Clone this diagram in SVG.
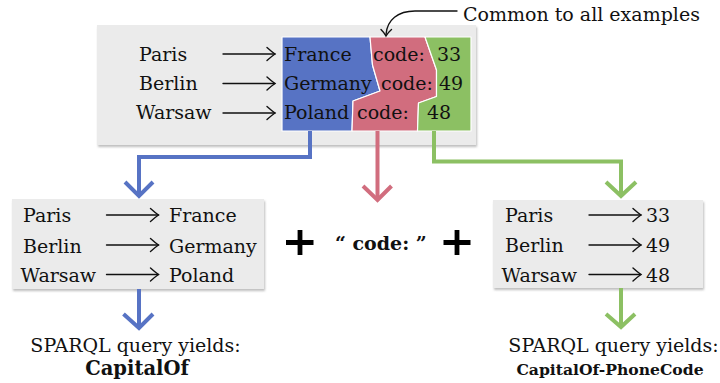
<svg xmlns="http://www.w3.org/2000/svg" width="720" height="383" viewBox="0 0 720 383">
<defs>
<style>
.t{font-family:"DejaVu Serif","Liberation Serif",serif;font-size:19px;fill:#111}
.b{font-family:"DejaVu Serif","Liberation Serif",serif;font-weight:bold;fill:#111}
.box{fill:#ebebeb;filter:url(#sh)}
.ar{fill:none;stroke:#111;stroke-width:1.4;stroke-linecap:round}
.thick{fill:none;stroke-width:4;stroke-linejoin:miter}
.sep{stroke:#fff;stroke-width:1.2;stroke-linejoin:round}
</style>
<filter id="sh" x="-5%" y="-10%" width="110%" height="125%">
<feDropShadow dx="1" dy="2" stdDeviation="1.2" flood-color="#888" flood-opacity="0.55"/>
</filter>
<g id="arr">
<line x1="0" y1="0" x2="52" y2="0" class="ar"/>
<path d="M44,-6.5 Q49,-2 52,0 Q49,2 44,6.5" class="ar"/>
</g>
</defs>
<rect width="720" height="383" fill="#fff"/>

<g id="top-box">
<rect x="97" y="25" width="379" height="120" class="box"/>
<polygon points="282,37 370,37 372.5,65 380,91 353,101 352,131 282,131" fill="#5773c4" class="sep"/>
<polygon points="370,37 425,37 436.5,70 436.5,96.5 418.5,103 417.5,131 352,131 353,101 380,91 372.5,65" fill="#d16d7e" class="sep"/>
<polygon points="425,37 471,37 471,131 417.5,131 418.5,103 436.5,96.5 436.5,70" fill="#8cc063" class="sep"/>
<text class="t" x="139" y="60.5">Paris</text>
<text class="t" x="139" y="90">Berlin</text>
<text class="t" x="136" y="119">Warsaw</text>
<use href="#arr" x="223" y="54"/>
<use href="#arr" x="223" y="83.5"/>
<use href="#arr" x="223" y="113"/>
<text class="t" x="284" y="60.5">France</text>
<text class="t" x="284" y="90">Germany</text>
<text class="t" x="284" y="119">Poland</text>
<text class="t" x="373" y="60.5">code:</text>
<text class="t" x="381" y="90">code:</text>
<text class="t" x="357" y="119">code:</text>
<text class="t" x="437" y="60.5">33</text>
<text class="t" x="439" y="90">49</text>
<text class="t" x="427" y="119">48</text>
</g>

<g id="common-label">
<text class="t" x="463" y="21">Common to all examples</text>
</g>

<g id="left-box">
<rect x="12" y="199" width="252" height="90" class="box"/>
<text class="t" x="23" y="222">Paris</text>
<text class="t" x="23" y="252.5">Berlin</text>
<text class="t" x="20.5" y="281.5">Warsaw</text>
<use href="#arr" x="106.5" y="215"/>
<use href="#arr" x="106.5" y="245"/>
<use href="#arr" x="106.5" y="274.5"/>
<text class="t" x="169" y="222">France</text>
<text class="t" x="169" y="252.5">Germany</text>
<text class="t" x="169" y="281.5">Poland</text>
</g>

<g id="right-box">
<rect x="493" y="200" width="210" height="88" class="box"/>
<text class="t" x="505" y="222">Paris</text>
<text class="t" x="505" y="252">Berlin</text>
<text class="t" x="501.5" y="281.5">Warsaw</text>
<use href="#arr" x="589" y="215"/>
<use href="#arr" x="589" y="245"/>
<use href="#arr" x="589" y="274.5"/>
<text class="t" x="646" y="222">33</text>
<text class="t" x="646" y="252">49</text>
<text class="t" x="646" y="281.5">48</text>
</g>

<g id="plus-code">
<path d="M286,242.5 H313.5 M300,230 V255" stroke="#000" stroke-width="4.8" fill="none"/>
<text class="b" x="335" y="249.5" font-size="19">“ code: ”</text>
<path d="M443.5,242.5 H470.5 M457,230 V255" stroke="#000" stroke-width="4.8" fill="none"/>
</g>

<g id="left-result">
<text class="t" x="135.5" y="351.5" text-anchor="middle">SPARQL query yields:</text>
<text class="b" x="137" y="375" font-size="19.5" text-anchor="middle">CapitalOf</text>
</g>

<g id="right-result">
<text class="t" x="613.5" y="351.5" text-anchor="middle">SPARQL query yields:</text>
<text class="b" x="610" y="375" font-size="15.6" text-anchor="middle">CapitalOf-PhoneCode</text>
</g>

<g id="connectors">
<path d="M457,11 H415 C398,11 387,20 386,34.5" class="ar"/>
<path d="M381,29.5 Q384.5,33 386,36 Q388,32.5 391.5,29.5" class="ar"/>
<g stroke="#5773c4" class="thick">
<path d="M310,131 V157 H139 V195"/>
<path d="M125,182 L139,196 L153,182"/>
<path d="M139,289 V327"/>
<path d="M123.5,314 L139,328 L153,314"/>
</g>
<g stroke="#d16d7e" class="thick">
<path d="M377.5,131 V198"/>
<path d="M363,186 L377.5,200 L391.5,186"/>
</g>
<g stroke="#8cc063" class="thick">
<path d="M434,131 V161.5 H621 V194"/>
<path d="M606,182 L621,196 L636,182"/>
<path d="M621,288 V326"/>
<path d="M606,314 L621,327 L635,314"/>
</g>
</g>
</svg>
